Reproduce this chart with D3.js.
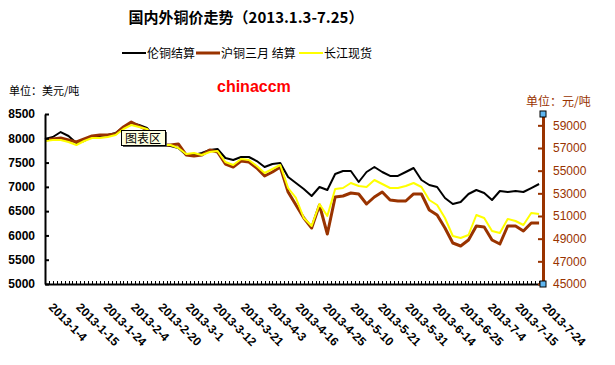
<!DOCTYPE html>
<html>
<head>
<meta charset="utf-8">
<script src="https://cdn.jsdelivr.net/npm/d3@7"></script>
<style>
body { margin: 0; background: #fff; }
svg { display: block; }
</style>
</head>
<body>
<div id="chart"></div>
<script>
// trading-day categories on the x axis, labels every 7th day
let categoryCount = 128
let labelEvery = 7
let tickLabels = ['2013-1-4','2013-1-15','2013-1-24','2013-2-4','2013-2-20','2013-3-1','2013-3-12',
	'2013-3-21','2013-4-3','2013-4-16','2013-4-25','2013-5-10','2013-5-21','2013-5-31',
	'2013-6-14','2013-6-25','2013-7-4','2013-7-15','2013-7-24']

// values read every other trading day (category 0, 2, 4 ...)
let sampleStep = 2
// LME settlement, USD/t (left axis)
let lme = [7985,8026,8129,8047,7903,7944,8047,8047,8068,8109,8232,8315,8274,8212,8006,7862,
	7841,7800,7656,7656,7697,7759,7779,7594,7553,7615,7615,7532,7409,7471,7491,7203,
	7079,6956,6812,6997,6935,7265,7326,7326,7100,7306,7409,7306,7224,7224,7306,7388,
	7141,7038,6997,6771,6647,6688,6853,6935,6874,6729,6915,6894,6915,6894,6976,7059]
// SHFE 3-month settlement, CNY/t (right axis)
let shfe = [57706,57795,57883,57706,57530,57795,58060,58148,58148,58236,58854,59295,58942,58589,57883,57265,
	57265,57354,56383,56295,56383,56824,56648,55589,55324,55854,55765,55236,54530,54883,55324,53118,
	51971,50824,49941,51971,49412,52677,52765,53030,52942,52059,52677,53118,52412,52324,52324,52942,
	52942,51530,51089,49941,48618,48353,48883,50118,50030,48883,48530,50118,50118,49677,50383,50383]
// Changjiang spot, CNY/t (right axis)
let spot = [57618,57706,57706,57530,57265,57618,57883,57883,57971,58148,58677,59030,58854,58677,57883,57265,
	57265,57000,56471,56559,56383,56648,56736,55765,55500,56030,55942,55412,54794,55148,55500,53471,
	52589,50824,50118,52059,51000,53383,53471,53912,53648,53559,54177,53824,53471,53471,53648,53912,
	53559,52412,51971,50824,49236,49059,49324,51089,50824,49677,49500,50736,50559,50206,51265,51177]

let leftTicks = [5000,5500,6000,6500,7000,7500,8000,8500]
let rightTicks = [45000,47000,49000,51000,53000,55000,57000,59000]

let width = 615
let height = 365
let margins = { top: 114, right: 72, bottom: 81, left: 45 }
let innerW = width - margins.left - margins.right
let innerH = height - margins.top - margins.bottom

let brown = '#993300'
let cjk = '"Noto Sans CJK SC", sans-serif'
let latin = '"Liberation Sans", Arial, sans-serif'

let xScale = d3.scaleLinear().domain([0, categoryCount - 1]).range([0, innerW])
let yLeft = d3.scaleLinear().domain([5000, 8500]).range([innerH, 0])
let yRight = d3.scaleLinear().domain([45000, 60000]).range([innerH, 0])

let svg = d3.select('#chart').append('svg')
	.attr('width', width)
	.attr('height', height)

// title + legend
svg.append('text')
	.attr('x', 246).attr('y', 23)
	.attr('text-anchor', 'middle')
	.style('font-family', cjk).style('font-size', '15px').style('font-weight', 'bold')
	.text('国内外铜价走势（2013.1.3-7.25）')

let legend = [
	{ name: '伦铜结算', color: '#000', w: 2, x: 122 },
	{ name: '沪铜三月 结算', color: brown, w: 3, x: 196 },
	{ name: '长江现货', color: '#ffff00', w: 2, x: 299 },
]
let lg = svg.append('g')
lg.selectAll('line').data(legend).enter().append('line')
	.attr('x1', d => d.x).attr('x2', d => d.x + 24)
	.attr('y1', 53).attr('y2', 53)
	.attr('stroke', d => d.color).attr('stroke-width', d => d.w)
lg.selectAll('text').data(legend).enter().append('text')
	.attr('x', d => d.x + 25).attr('y', 57.5)
	.style('font-family', cjk).style('font-size', '12px')
	.text(d => d.name)

svg.append('text')
	.attr('x', 9).attr('y', 95)
	.style('font-family', cjk).style('font-size', '11px')
	.text('单位：美元/吨')

svg.append('text')
	.attr('x', 526).attr('y', 106)
	.style('font-family', cjk).style('font-size', '12px')
	.attr('fill', brown)
	.text('单位：元/吨')

svg.append('text')
	.attr('x', 217).attr('y', 92)
	.style('font-family', latin).style('font-size', '16px').style('font-weight', 'bold')
	.attr('fill', '#ff0000')
	.text('chinaccm')

let inner = svg.append('g')
	.attr('transform', 'translate(' + margins.left + ',' + margins.top + ')')

// lines
let series = [
	{ data: lme, scale: yLeft, color: '#000', w: 2 },
	{ data: shfe, scale: yRight, color: brown, w: 3 },
	{ data: spot, scale: yRight, color: '#ffff00', w: 2 },
]
series.forEach(s => {
	let line = d3.line()
		.x((d, i) => xScale(i * sampleStep))
		.y(d => s.scale(d))
	inner.append('path')
		.datum(s.data)
		.attr('d', line)
		.attr('fill', 'none')
		.attr('stroke', s.color)
		.attr('stroke-width', s.w)
		.attr('stroke-linejoin', 'round')
})

// left axis
let yAxisL = d3.axisLeft(yLeft)
	.tickValues(leftTicks)
	.tickFormat(d3.format('d'))
	.tickSize(-4)
	.tickSizeOuter(0)
	.tickPadding(10)
let gl = inner.append('g').call(yAxisL)
gl.select('.domain').attr('stroke', '#000').attr('stroke-width', 2)
gl.selectAll('.tick line').attr('stroke', '#000').attr('stroke-width', 2)
gl.selectAll('.tick text')
	.style('font-family', latin).style('font-size', '12px').style('font-weight', 'bold')
	.attr('fill', '#000')

// bottom axis, a tick for every trading day
let xAxis = d3.axisBottom(xScale)
	.tickValues(d3.range(categoryCount))
	.tickSize(-3)
	.tickSizeOuter(0)
	.tickFormat('')
let gx = inner.append('g')
	.attr('transform', 'translate(0,' + innerH + ')')
	.call(xAxis)
gx.select('.domain').attr('stroke', '#000').attr('stroke-width', 2)
gx.selectAll('.tick line').attr('stroke', '#000').attr('stroke-width', 1)
	.attr('shape-rendering', 'crispEdges')

gx.selectAll('.xlabel').data(tickLabels).enter().append('text')
	.attr('class', 'xlabel')
	.attr('text-anchor', 'start')
	.attr('transform', (d, i) => 'translate(' + (xScale(i * labelEvery) + 3) + ',24) rotate(45)')
	.style('font-family', latin).style('font-size', '12px').style('font-weight', 'bold')
	.attr('fill', '#000')
	.text(d => d)

// right axis
let yAxisR = d3.axisRight(yRight)
	.tickValues(rightTicks)
	.tickFormat(d3.format('d'))
	.tickSize(-5)
	.tickSizeOuter(0)
	.tickPadding(10)
let gr = inner.append('g')
	.attr('transform', 'translate(' + innerW + ',0)')
	.call(yAxisR)
gr.select('.domain').attr('stroke', brown).attr('stroke-width', 3)
gr.selectAll('.tick line').attr('stroke', brown).attr('stroke-width', 2)
gr.selectAll('.tick text')
	.style('font-family', latin).style('font-size', '12px')
	.attr('fill', brown)

// selection handles on the right axis
gr.selectAll('.handle').data([0, innerH]).enter().append('rect')
	.attr('class', 'handle')
	.attr('x', -3).attr('y', d => d - 3)
	.attr('width', 6).attr('height', 6)
	.attr('fill', '#5fb6f0').attr('stroke', '#000').attr('stroke-width', 1)

// "图表区" tooltip
let tip = svg.append('g').attr('transform', 'translate(121,130)')
tip.append('rect').attr('x', 2).attr('y', 2).attr('width', 44).attr('height', 15).attr('fill', '#555')
tip.append('rect').attr('x', 0.5).attr('y', 0.5).attr('width', 44).attr('height', 15)
	.attr('fill', '#ffffe1').attr('stroke', '#000').attr('stroke-width', 1)
tip.append('text')
	.attr('x', 4).attr('y', 12.5)
	.style('font-family', cjk).style('font-size', '12px')
	.text('图表区')
</script>
</body>
</html>
